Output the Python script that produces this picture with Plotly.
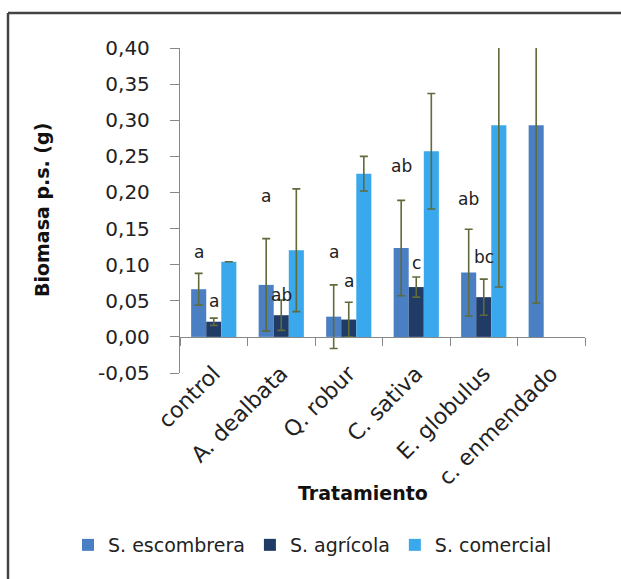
import plotly.graph_objects as go

categories = ["control", "A. dealbata", "Q. robur", "C. sativa", "E. globulus", "c. enmendado"]
series_names = ["S. escombrera", "S. agrícola", "S. comercial"]

escombrera = [0.066, 0.072, 0.028, 0.123, 0.089, 0.293]
escombrera_err = [0.022, 0.064, 0.044, 0.066, 0.060, 0.246]
agricola = [0.021, 0.030, 0.024, 0.069, 0.055, None]
agricola_err = [0.005, 0.021, 0.024, 0.014, 0.025, None]
comercial = [0.104, 0.120, 0.226, 0.257, 0.293, None]
comercial_err = [None, 0.085, 0.024, 0.080, 0.224, None]

# significance letters: (category index, series index, letter, y position)
letters_cat = [0, 0, 1, 1, 2, 2, 3, 3, 4, 4, 5]
letters_series = [0, 1, 0, 1, 0, 1, 0, 1, 0, 1, 0]
letters_text = ["a", "a", "a", "ab", "a", "a", "ab", "c", "ab", "bc", "b"]
letters_y = [0.118, 0.050, 0.195, 0.058, 0.118, 0.078, 0.237, 0.102, 0.191, 0.111, 0.418]

ytick_vals = [-0.05, 0.0, 0.05, 0.10, 0.15, 0.20, 0.25, 0.30, 0.35, 0.40]
ytick_text = ["-0,05", "0,00", "0,05", "0,10", "0,15", "0,20", "0,25", "0,30", "0,35", "0,40"]

colors = ["#4a7fc4", "#1f3b66", "#3aa8ec"]
err_color = "#5f6b3a"
FONT = "DejaVu Sans"

# plot area in pixels: x 180..585, y 48..373
L, R, T, B = 180, 585, 48, 373
W, H = R - L, B - T


def px(xp):
    return (xp - L) / W


def py(yp):
    return (B - yp) / H


fig = go.Figure()
for name, vals, errs, col in zip(series_names, [escombrera, agricola, comercial],
                                 [escombrera_err, agricola_err, comercial_err], colors):
    fig.add_trace(go.Bar(
        x=categories, y=vals, name=name, marker=dict(color=col, line=dict(width=0)),
        error_y=dict(type="data", array=errs, visible=True, color=err_color,
                     thickness=1.6, width=4),
    ))

# letter annotations
bar_w = (1 - 0.33) / 3
for c, s, t, yv in zip(letters_cat, letters_series, letters_text, letters_y):
    fig.add_annotation(x=c + (s - 1) * bar_w, y=yv, text=t, showarrow=False,
                       font=dict(family=FONT, size=17, color="#222"),
                       xanchor="center", yanchor="middle")

# axis titles
fig.add_annotation(x=px(42), y=py(210), xref="paper", yref="paper", text="<b>Biomasa p.s. (g)</b>",
                   textangle=-90, showarrow=False, xanchor="center", yanchor="middle",
                   font=dict(family=FONT, size=19, color="#111"))
fig.add_annotation(x=px(363), y=py(493), xref="paper", yref="paper", text="<b>Tratamiento</b>",
                   showarrow=False, xanchor="center", yanchor="middle",
                   font=dict(family=FONT, size=19, color="#111"))

# outer frame (top & left visible in the crop)
fig.add_shape(type="line", xref="paper", yref="paper", x0=px(8), x1=px(640), y0=py(13), y1=py(13),
              line=dict(color="#444", width=2.5))
fig.add_shape(type="line", xref="paper", yref="paper", x0=px(8), x1=px(8), y0=py(13), y1=py(600),
              line=dict(color="#444", width=2.5))

fig.update_layout(
    width=621, height=579,
    paper_bgcolor="white", plot_bgcolor="white",
    margin=dict(l=L, r=621 - R, t=T, b=579 - B, autoexpand=False),
    barmode="group", bargap=0.33, bargroupgap=0,
    font=dict(family=FONT, color="#222"),
    xaxis=dict(type="category", categoryarray=categories, categoryorder="array",
               range=[-0.5, len(categories) - 0.5], automargin=False,
               anchor="free", position=0.05 / 0.45, side="bottom",
               tickson="boundaries", ticks="outside", ticklen=8, tickcolor="#888",
               showline=True, linecolor="#888", linewidth=1.3,
               tickangle=-45, tickfont=dict(size=22, family=FONT, color="#222"),
               ticklabelstandoff=14,
               showgrid=False, zeroline=False),
    yaxis=dict(range=[-0.05, 0.40], tickvals=ytick_vals, ticktext=ytick_text, automargin=False,
               tickfont=dict(size=20, family=FONT, color="#222"),
               showline=True, linecolor="#888", linewidth=1.3, ticks="outside", ticklen=9,
               tickcolor="#888", ticklabelstandoff=16, showgrid=False, zeroline=False),
    legend=dict(orientation="h", x=px(68), xanchor="left", y=py(545), yanchor="middle",
                font=dict(size=19, family=FONT, color="#222"), itemwidth=30,
                traceorder="normal", tracegroupgap=0, bgcolor="rgba(0,0,0,0)"),
    showlegend=True,
)

fig.write_html("out.html", config={"displayModeBar": False},
               post_script="document.body.style.margin='0';document.body.style.overflow='hidden';")
